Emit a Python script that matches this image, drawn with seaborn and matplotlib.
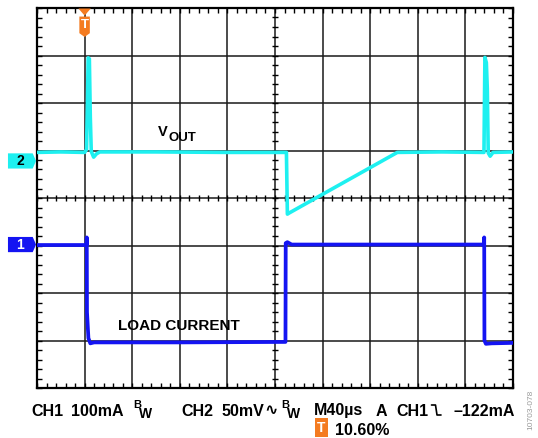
import numpy as np
import pandas as pd
import matplotlib
matplotlib.use("Agg")
import matplotlib.pyplot as plt
import seaborn as sns
from matplotlib.patches import Polygon
from matplotlib.lines import Line2D
from matplotlib.ticker import MultipleLocator

# === Trace data (time and level in graticule divisions, 10 x 8 screen) ===
vout_t = [0.0, 0.5, 1.0, 1.04, 1.06, 1.075, 1.10, 1.12, 1.14, 1.19, 1.25, 1.32, 2.5, 4.0,
          5.24, 5.26, 5.29, 7.57, 8.5, 9.39, 9.41, 9.44, 9.46, 9.48, 9.52, 9.58, 10.0]
vout_v = [4.96, 4.97, 4.96, 5.02, 6.0, 6.95, 6.93, 5.7, 4.98, 4.86, 4.93, 4.97, 4.97, 4.96,
          4.96, 3.66, 3.68, 4.96, 4.97, 4.96, 6.96, 6.85, 6.3, 4.95, 4.88, 4.96, 4.97]

iload_t = [0.0, 1.04, 1.045, 1.05, 1.08, 1.12, 1.2, 3.0, 5.22, 5.225, 5.26, 5.35, 7.0,
           9.39, 9.395, 9.40, 9.43, 9.55, 10.0]
iload_v = [3.01, 3.01, 3.17, 1.6, 1.05, 0.94, 0.96, 0.96, 0.97, 3.05, 3.07, 3.02, 3.02,
           3.02, 3.17, 1.0, 0.93, 0.94, 0.95]

ch2_ref = 4.78      # channel 2 ground marker level
ch1_ref = 3.02      # channel 1 ground marker level
trig_pos = 1.0      # trigger position (div)

readout = ["CH1", "100mA", "CH2", "50mV", "M40µs", "A", "CH1", "–122mA"]

vout = pd.DataFrame({"t": vout_t, "v": vout_v})
iload = pd.DataFrame({"t": iload_t, "v": iload_v})

CYAN = "#1EF0F0"
BLUE = "#1414F2"
ORANGE = "#F47B20"

sns.set_style("white")
plt.rcParams["font.family"] = ["Liberation Sans", "DejaVu Sans"]
plt.rcParams["font.weight"] = "bold"
plt.rcParams["text.color"] = "black"

W, H = 538, 438
fig = plt.figure(figsize=(W / 100, H / 100), dpi=100)
ax = fig.add_axes([37 / W, 1 - 388 / H, 476 / W, 380 / H])
ax.set_xlim(0, 10)
ax.set_ylim(0, 8)

# === Graticule ===
ax.xaxis.set_major_locator(MultipleLocator(1))
ax.yaxis.set_major_locator(MultipleLocator(1))
ax.xaxis.set_minor_locator(MultipleLocator(0.2))
ax.yaxis.set_minor_locator(MultipleLocator(0.2))
ax.grid(True, which="major", color="#1a1a1a", linewidth=1.1)
ax.tick_params(which="both", direction="in", top=True, right=True, bottom=True, left=True,
               length=3.8, width=1.0, color="black", labelbottom=False, labelleft=False)
for sp in ax.spines.values():
    sp.set_linewidth(1.6)
    sp.set_color("black")

# crosshair ticks on the centre lines
mx = np.arange(0, 10.01, 0.2)
my = np.arange(0, 8.01, 0.2)
ax.vlines(mx, 4 - 0.07, 4 + 0.07, color="black", linewidth=1.0, zorder=2)
ax.hlines(my, 5 - 0.07, 5 + 0.07, color="black", linewidth=1.0, zorder=2)

# === Traces ===
sns.lineplot(data=vout, x="t", y="v", sort=False, estimator=None, color=CYAN,
             linewidth=2.6, ax=ax, zorder=4)
sns.lineplot(data=iload, x="t", y="v", sort=False, estimator=None, color=BLUE,
             linewidth=2.7, ax=ax, zorder=5)
ax.set_xlabel("")
ax.set_ylabel("")

# === Labels on screen ===
ax.text(2.547, 5.40, "V", fontsize=10.5, fontweight="bold", ha="left", va="center")
ax.text(2.76, 5.26, "OUT", fontsize=9.5, fontweight="bold", ha="left", va="center")
ax.text(2.99, 1.305, "LOAD CURRENT", fontsize=11, fontweight="bold", ha="center", va="center")

# === Channel markers ===
def channel_tag(y, label, fc, tc):
    hh = 0.16
    pts = [(-0.61, y - hh), (-0.09, y - hh), (-0.02, y), (-0.09, y + hh), (-0.61, y + hh)]
    ax.add_patch(Polygon(pts, closed=True, fc=fc, ec="none", clip_on=False, zorder=6))
    ax.text(-0.36, y, label, color=tc, fontsize=10, fontweight="bold",
            ha="center", va="center", clip_on=False, zorder=8)

channel_tag(ch2_ref, "2", CYAN, "black")
channel_tag(ch1_ref, "1", BLUE, "white")

# trigger marker on top edge
tri = [(trig_pos - 0.13, 7.99), (trig_pos + 0.13, 7.99), (trig_pos, 7.84)]
ax.add_patch(Polygon(tri, closed=True, fc=ORANGE, ec="none", clip_on=False, zorder=6))
tag = [(trig_pos - 0.11, 7.82), (trig_pos + 0.11, 7.82), (trig_pos + 0.11, 7.47),
       (trig_pos, 7.39), (trig_pos - 0.11, 7.47)]
ax.add_patch(Polygon(tag, closed=True, fc=ORANGE, ec="none", clip_on=False, zorder=6))
ax.text(trig_pos, 7.645, "T", color="white", fontsize=9.5, fontweight="bold",
        ha="center", va="center", zorder=8)

# === Readout below screen ===
def ftext(px, py, s, size=11.5, **kw):
    fig.text(px / W, 1 - py / H, s, fontsize=size, fontweight="bold", va="baseline", **kw)

base = 415.5
ftext(31, base, readout[0])
ftext(71, base, readout[1])
ftext(133, base - 7, "B", size=8)
ftext(139, base + 3, "W", size=10)
ftext(181, base, readout[2])
ftext(221, base, readout[3])
ftext(264, base, "∿", size=11.5, family=["DejaVu Sans"])
ftext(281, base - 7, "B", size=8)
ftext(287, base + 3, "W", size=10)
ftext(314, base, readout[4])
ftext(376, base, readout[5])
ftext(396, base, readout[6])
ftext(453, base, readout[7])

# falling-edge trigger slope symbol
ex = np.array([431.5, 435.5, 437.0, 441.0]) / W
ey = 1 - np.array([405.0, 405.0, 415.0, 415.0]) / H
fig.add_artist(Line2D(ex, ey, color="black", linewidth=1.2, transform=fig.transFigure))

fig.text(321.5 / W, 1 - 427.5 / H, "T", color="white", fontsize=10, fontweight="bold",
         ha="center", va="center",
         bbox=dict(boxstyle="square,pad=0.18", fc=ORANGE, ec="none"))
ftext(335, 435, "10.60%")

fig.text(531 / W, 1 - 410 / H, "10703-078", rotation=90, fontsize=6, color="#9a9a9a",
         fontweight="normal", ha="center", va="center")

fig.savefig("out.png", dpi=100)
